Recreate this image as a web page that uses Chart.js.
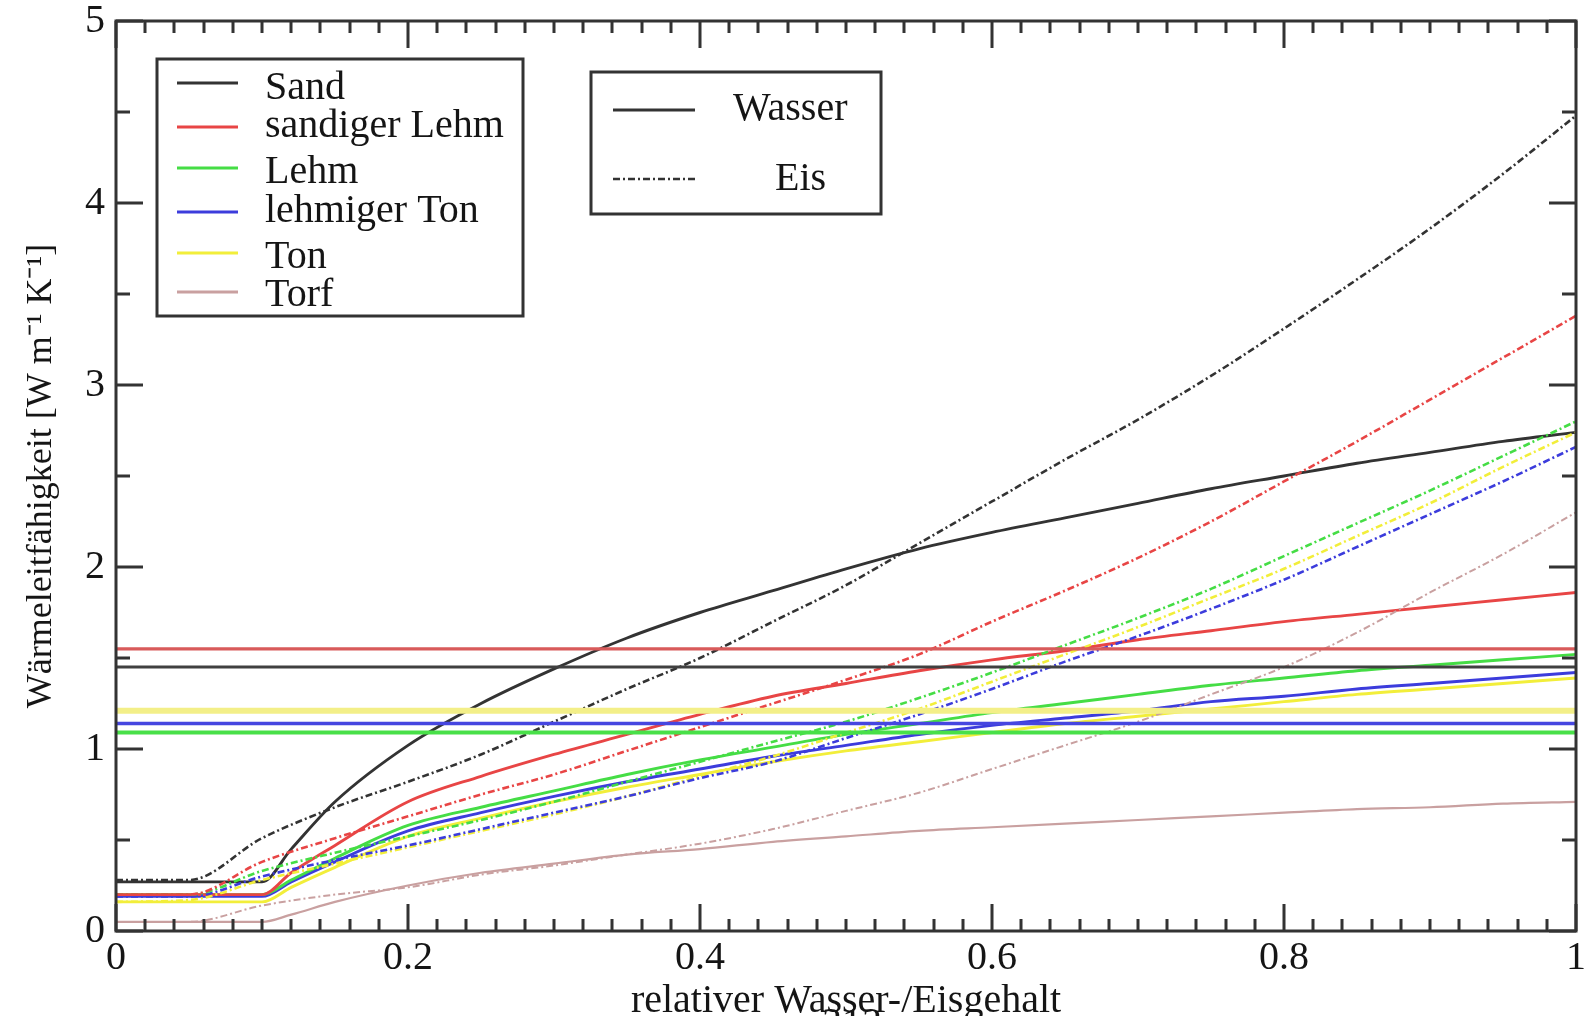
<!DOCTYPE html>
<html><head><meta charset="utf-8">
<script src="https://cdn.jsdelivr.net/npm/chart.js@4.4.0/dist/chart.umd.min.js"></script>
<style>html,body{margin:0;padding:0;background:#fff;overflow:hidden}</style>
</head><body>
<canvas id="c" width="1585" height="1016"></canvas>
<script>
// ---------- data ----------
const soilNames = ['Sand', 'sandiger Lehm', 'Lehm', 'lehmiger Ton', 'Ton', 'Torf'];
const phaseNames = ['Wasser', 'Eis'];
const xTickLabels = ['0', '0.2', '0.4', '0.6', '0.8', '1'];
const yTickLabels = ['0', '1', '2', '3', '4', '5'];
const xTitle = 'relativer Wasser-/Eisgehalt';
const yTitle = 'Wärmeleitfähigkeit [W m⁻¹ K⁻¹]';
const pageNumber = '313';

const xWater = [0, 0.1, 0.12, 0.15, 0.2, 0.25, 0.3, 0.35, 0.4, 0.45, 0.5, 0.55, 0.6, 0.65, 0.7, 0.75, 0.8, 0.85, 0.9, 0.95, 1.0];
const sandWasser         = [0.27, 0.27, 0.45, 0.71, 1.02, 1.25, 1.44, 1.61, 1.75, 1.87, 1.99, 2.10, 2.19, 2.27, 2.35, 2.43, 2.50, 2.57, 2.63, 2.69, 2.74];
const sandigerLehmWasser = [0.20, 0.20, 0.32, 0.47, 0.71, 0.85, 0.97, 1.08, 1.19, 1.29, 1.36, 1.43, 1.49, 1.54, 1.60, 1.65, 1.70, 1.74, 1.78, 1.82, 1.86];
const lehmWasser         = [0.20, 0.20, 0.28, 0.40, 0.58, 0.68, 0.77, 0.86, 0.94, 1.01, 1.08, 1.14, 1.20, 1.25, 1.30, 1.35, 1.39, 1.43, 1.46, 1.49, 1.52];
const lehmigerTonWasser  = [0.19, 0.19, 0.27, 0.38, 0.55, 0.65, 0.74, 0.82, 0.89, 0.96, 1.02, 1.08, 1.13, 1.17, 1.21, 1.26, 1.29, 1.33, 1.36, 1.39, 1.42];
const tonWasser          = [0.16, 0.16, 0.24, 0.35, 0.52, 0.62, 0.71, 0.79, 0.86, 0.93, 0.99, 1.04, 1.09, 1.14, 1.18, 1.22, 1.26, 1.30, 1.33, 1.36, 1.39];
const torfWasser         = [0.05, 0.05, 0.09, 0.16, 0.25, 0.32, 0.37, 0.42, 0.45, 0.49, 0.52, 0.55, 0.57, 0.59, 0.61, 0.63, 0.65, 0.67, 0.68, 0.70, 0.71];

const xIce = [0, 0.05, 0.1, 0.15, 0.2, 0.25, 0.3, 0.35, 0.4, 0.45, 0.5, 0.55, 0.6, 0.65, 0.7, 0.75, 0.8, 0.85, 0.9, 0.95, 1.0];
const sandEis         = [0.28, 0.28, 0.51, 0.68, 0.82, 0.97, 1.15, 1.33, 1.50, 1.70, 1.90, 2.13, 2.36, 2.59, 2.81, 3.05, 3.31, 3.58, 3.86, 4.16, 4.48];
const sandigerLehmEis = [0.20, 0.20, 0.38, 0.51, 0.63, 0.75, 0.86, 0.99, 1.12, 1.25, 1.38, 1.52, 1.70, 1.87, 2.05, 2.25, 2.47, 2.69, 2.92, 3.15, 3.38];
const lehmEis         = [0.20, 0.20, 0.33, 0.43, 0.52, 0.61, 0.71, 0.82, 0.93, 1.04, 1.15, 1.28, 1.42, 1.57, 1.72, 1.88, 2.06, 2.24, 2.42, 2.61, 2.80];
const lehmigerTonEis  = [0.19, 0.19, 0.30, 0.39, 0.47, 0.56, 0.65, 0.74, 0.84, 0.93, 1.06, 1.19, 1.33, 1.48, 1.62, 1.77, 1.93, 2.11, 2.29, 2.47, 2.66];
const tonEis          = [0.16, 0.17, 0.28, 0.37, 0.46, 0.55, 0.64, 0.74, 0.85, 0.96, 1.09, 1.22, 1.37, 1.52, 1.67, 1.83, 1.99, 2.17, 2.35, 2.55, 2.74];
const torfEis         = [0.05, 0.05, 0.14, 0.20, 0.24, 0.31, 0.36, 0.42, 0.48, 0.56, 0.66, 0.76, 0.89, 1.02, 1.15, 1.30, 1.45, 1.64, 1.86, 2.07, 2.30];

// constant reference levels (Sand, sandiger Lehm, Lehm, lehmiger Ton, Ton)
const levelX = [0, 1];
const constLevels = [1.45, 1.55, 1.09, 1.14, 1.21];

// ---------- styles ----------
const FONT = "'Liberation Serif', 'Times New Roman', serif";
const TXT = '#151515';
const AX = '#333333';
const soilColors = ['#333333', '#e84545', '#45dd45', '#3c3cdc', '#f2ee3a', '#c9a0a0'];
const levelColors = ['#404040', '#d85a5a', '#48e048', '#4646e0', '#f3ef88'];
const levelWidths = [3, 3.2, 4, 3.5, 6];
const iceDash = [7, 3, 2, 3];

const waterSeries = [sandWasser, sandigerLehmWasser, lehmWasser, lehmigerTonWasser, tonWasser, torfWasser];
const iceSeries = [sandEis, sandigerLehmEis, lehmEis, lehmigerTonEis, tonEis, torfEis];

const toPts = (xs, ys) => xs.map((x, i) => ({x: x, y: ys[i]}));

const datasets = [];
constLevels.forEach((v, i) => {
  datasets.push({label: soilNames[i] + ' const', data: toPts(levelX, levelX.map(() => v)),
    borderColor: levelColors[i], borderWidth: levelWidths[i], pointRadius: 0, tension: 0});
});
iceSeries.forEach((ys, i) => {
  datasets.push({label: soilNames[i] + ' ' + phaseNames[1], data: toPts(xIce, ys),
    borderColor: soilColors[i], borderWidth: i === 5 ? 2 : 2.6, borderDash: iceDash,
    pointRadius: 0, cubicInterpolationMode: 'monotone'});
});
waterSeries.forEach((ys, i) => {
  datasets.push({label: soilNames[i] + ' ' + phaseNames[0], data: toPts(xWater, ys),
    borderColor: soilColors[i], borderWidth: i === 5 ? 2.2 : 2.9,
    pointRadius: 0, cubicInterpolationMode: 'monotone'});
});

// ---------- plugins ----------
const frameAndTicks = {
  id: 'frameAndTicks',
  afterDatasetsDraw(chart) {
    const ctx = chart.ctx, ca = chart.chartArea;
    const xs = chart.scales.x, ys = chart.scales.y;
    ctx.save();
    ctx.strokeStyle = AX;
    ctx.lineWidth = 3;
    xs.ticks.forEach(t => {
      const px = Math.round(xs.getPixelForValue(t.value));
      const major = Math.abs(t.value * 5 - Math.round(t.value * 5)) < 1e-6;
      const len = major ? 27 : 12;
      ctx.beginPath();
      ctx.moveTo(px, ca.bottom); ctx.lineTo(px, ca.bottom - len);
      ctx.moveTo(px, ca.top); ctx.lineTo(px, ca.top + len);
      ctx.stroke();
    });
    ys.ticks.forEach(t => {
      const py = Math.round(ys.getPixelForValue(t.value));
      const major = Math.abs(t.value - Math.round(t.value)) < 1e-6;
      const len = major ? 27 : 14;
      ctx.beginPath();
      ctx.moveTo(ca.left, py); ctx.lineTo(ca.left + len, py);
      ctx.moveTo(ca.right, py); ctx.lineTo(ca.right - len, py);
      ctx.stroke();
    });
    ctx.lineWidth = 3;
    ctx.strokeRect(ca.left, ca.top, ca.right - ca.left, ca.bottom - ca.top);
    ctx.restore();
  },
  afterDraw(chart) {
    const ctx = chart.ctx;
    ctx.save();
    ctx.font = '40px ' + FONT;
    // soil legend
    ctx.strokeStyle = AX; ctx.lineWidth = 3;
    ctx.fillStyle = '#fff';
    ctx.fillRect(157, 59, 366, 257);
    ctx.strokeRect(157, 59, 366, 257);
    const lineY = [83, 127, 168, 212, 253, 292];
    const baseY = [99, 137, 183, 222, 268, 306];
    soilNames.forEach((n, i) => {
      ctx.strokeStyle = soilColors[i];
      ctx.lineWidth = 2.8;
      ctx.setLineDash([]);
      ctx.beginPath(); ctx.moveTo(177, lineY[i]); ctx.lineTo(238, lineY[i]); ctx.stroke();
      ctx.fillStyle = TXT;
      ctx.textBaseline = 'alphabetic';
      ctx.textAlign = 'left';
      ctx.fillText(n, 265, baseY[i]);
    });
    // phase legend
    ctx.strokeStyle = AX; ctx.lineWidth = 3;
    ctx.fillStyle = '#fff';
    ctx.fillRect(591, 72, 290, 142);
    ctx.strokeRect(591, 72, 290, 142);
    ctx.strokeStyle = AX; ctx.lineWidth = 2.8;
    ctx.beginPath(); ctx.moveTo(613, 110); ctx.lineTo(695, 110); ctx.stroke();
    ctx.setLineDash(iceDash); ctx.lineWidth = 2.4;
    ctx.beginPath(); ctx.moveTo(613, 179); ctx.lineTo(698, 179); ctx.stroke();
    ctx.setLineDash([]);
    ctx.fillStyle = TXT;
    ctx.textAlign = 'left';
    ctx.fillText(phaseNames[0], 733, 120);
    ctx.fillText(phaseNames[1], 775, 190);
    // page number (cut at bottom)
    ctx.font = '40px ' + FONT;
    ctx.textAlign = 'center';
    ctx.textBaseline = 'top';
    ctx.fillText(pageNumber, 852, 1004);
    ctx.restore();
  }
};

new Chart(document.getElementById('c'), {
  type: 'line',
  data: {datasets: datasets},
  options: {
    responsive: false, animation: false, devicePixelRatio: 1,
    layout: {padding: {top: 21, right: 9, bottom: 0, left: 0}},
    plugins: {legend: {display: false}, tooltip: {enabled: false}},
    elements: {point: {radius: 0}, line: {borderCapStyle: 'butt', borderJoinStyle: 'round'}},
    scales: {
      x: {
        type: 'linear', min: 0, max: 1, position: 'bottom',
        grid: {display: false, drawTicks: false}, border: {display: false},
        ticks: {stepSize: 0.02, autoSkip: false, maxRotation: 0, padding: 3, color: TXT,
          font: {family: FONT, size: 40},
          callback: v => {
            const k = Math.round(v * 5);
            return Math.abs(v * 5 - k) < 1e-6 ? xTickLabels[k] : '';
          }},
        title: {display: true, text: xTitle, color: TXT, font: {family: FONT, size: 40, lineHeight: 0.75},
          padding: {top: 0, bottom: 0}},
        afterFit: s => { s.height = 85; s.paddingLeft = 0; s.paddingRight = 0; }
      },
      y: {
        type: 'linear', min: 0, max: 5, position: 'left',
        grid: {display: false, drawTicks: false}, border: {display: false},
        ticks: {stepSize: 0.5, autoSkip: false, padding: 11, color: TXT,
          font: {family: FONT, size: 40},
          callback: v => {
            const k = Math.round(v);
            return Math.abs(v - k) < 1e-6 ? yTickLabels[k] : '';
          }},
        title: {display: true, text: yTitle, color: TXT, font: {family: FONT, size: 36},
          padding: {top: 20, bottom: 0}},
        afterFit: s => { s.width = 116; s.paddingTop = 0; s.paddingBottom = 0; }
      }
    }
  },
  plugins: [frameAndTicks]
});
</script>
</body></html>
